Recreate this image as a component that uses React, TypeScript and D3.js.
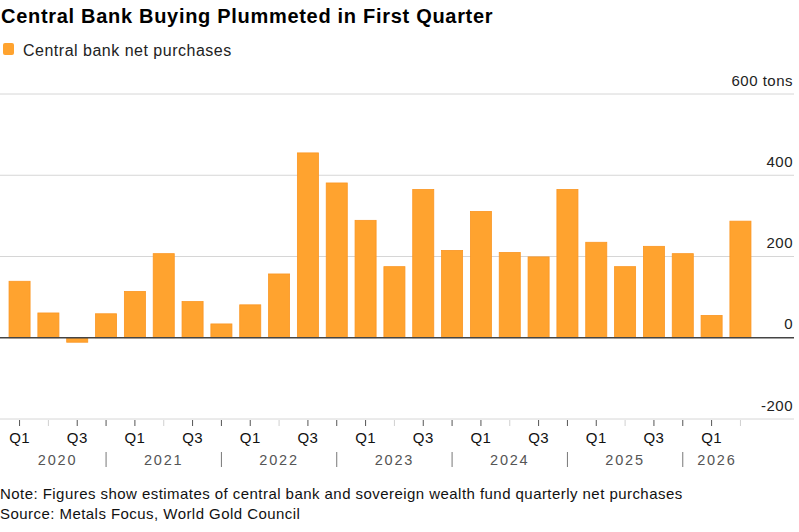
import * as React from "react";
import * as d3 from "d3";

// quarterly central bank net gold purchases, tons
const YEARS = [2020, 2021, 2022, 2023, 2024, 2025, 2026];
const QUARTERS = ["Q1", "Q2", "Q3", "Q4"];
const PURCHASES = [
  139, 61, -11, 59, 114, 207, 89, 34, 81, 157, 455, 381, 289, 175, 365, 215,
  311, 210, 199, 365, 235, 175, 225, 207, 55, 287,
];
const Y_TICKS = [-200, 0, 200, 400, 600];

interface IPeriod {
  key: string;
  year: number;
  q: number;
  value: number;
}

const PERIODS: IPeriod[] = PURCHASES.map((value, i) => ({
  key: `${YEARS[Math.floor(i / 4)]}-${QUARTERS[i % 4]}`,
  year: YEARS[Math.floor(i / 4)],
  q: i % 4,
  value,
}));

const FONT = "'Liberation Sans', Arial, Helvetica, sans-serif";
const BAR_FILL = "#ffa32f";
const BAR_STROKE = "#fb9622";

export default function App() {
  const [width, height] = [799, 532];
  const gridRight = 794;

  const x = d3
    .scaleBand<string>()
    .domain(PERIODS.map((d) => d.key))
    .range([5, 755])
    .paddingInner(0.27)
    .paddingOuter(0.14);
  const y = d3.scaleLinear().domain([-200, 600]).range([419, 94]);

  const center = (k: string) => (x(k) ?? 0) + x.bandwidth() / 2;
  const start = x(PERIODS[0].key) ?? 0;
  const end = (x(PERIODS[PERIODS.length - 1].key) ?? 0) + x.bandwidth();

  // year labels sit between the Q4 separators
  const yearLabels = YEARS.map((yr) => {
    const prevQ4 = PERIODS.find((p) => p.year === yr - 1 && p.q === 3);
    const thisQ4 = PERIODS.find((p) => p.year === yr && p.q === 3);
    const left = prevQ4 ? center(prevQ4.key) : start;
    const right = thisQ4 ? center(thisQ4.key) : end;
    return { yr, cx: (left + right) / 2, sep: thisQ4 ? center(thisQ4.key) : null };
  });

  return (
    <div style={{ position: "absolute", left: 0, top: 0 }}>
      <svg width={width} height={height} style={{ display: "block", fontFamily: FONT }}>
        <rect width={width} height={height} fill="#fff" />
        <text x={1} y={23} fontSize={20} fontWeight="bold" letterSpacing={0.7} fill="#000">
          Central Bank Buying Plummeted in First Quarter
        </text>
        <rect x={3} y={43} width={11} height={12} rx={2} fill={BAR_FILL} />
        <text x={23} y={56} fontSize={16} letterSpacing={0.5} fill="#222">
          Central bank net purchases
        </text>

        {/* gridlines and value labels */}
        {Y_TICKS.map((t) => (
          <g key={t}>
            {t !== 0 && (
              <line x1={0} x2={gridRight} y1={y(t)} y2={y(t)} stroke="#d6d6d6" strokeWidth={1} />
            )}
            <text
              x={gridRight - 1}
              y={y(t) - 8.5}
              textAnchor="end"
              fontSize={15}
              letterSpacing={0.5}
              fill="#222"
            >
              {t === 600 ? "600 tons" : t}
            </text>
          </g>
        ))}

        {/* bars */}
        {PERIODS.map((d) => (
          <rect
            key={d.key}
            x={x(d.key)}
            y={y(Math.max(0, d.value))}
            width={x.bandwidth()}
            height={Math.abs(y(d.value) - y(0))}
            fill={BAR_FILL}
            stroke={BAR_STROKE}
            strokeWidth={0.8}
          />
        ))}

        <line x1={0} x2={gridRight} y1={y(0)} y2={y(0)} stroke="#444" strokeWidth={1.4} />

        {/* quarter ticks */}
        {PERIODS.map((d) => (
          <line
            key={d.key}
            x1={center(d.key)}
            x2={center(d.key)}
            y1={420}
            y2={426}
            stroke={d.q === 1 ? "#d0d0d0" : "#555"}
            strokeWidth={1}
          />
        ))}
        {PERIODS.filter((d) => d.q === 0 || d.q === 2).map((d) => (
          <text
            key={d.key}
            x={center(d.key)}
            y={443}
            textAnchor="middle"
            fontSize={15}
            letterSpacing={0.4}
            fill="#111"
          >
            {QUARTERS[d.q]}
          </text>
        ))}

        {/* years */}
        {yearLabels.map((l) => (
          <g key={l.yr}>
            <text
              x={l.cx}
              y={465}
              textAnchor="middle"
              fontSize={14.5}
              letterSpacing={1.8}
              fill="#555"
            >
              {l.yr}
            </text>
            {l.sep !== null && l.yr !== YEARS[YEARS.length - 1] && (
              <line x1={l.sep} x2={l.sep} y1={452} y2={467} stroke="#777" strokeWidth={1} />
            )}
          </g>
        ))}

        <text x={0} y={499} fontSize={15} letterSpacing={0.45} fill="#111">
          Note: Figures show estimates of central bank and sovereign wealth fund quarterly net purchases
        </text>
        <text x={0} y={519} fontSize={15} letterSpacing={0.45} fill="#111">
          Source: Metals Focus, World Gold Council
        </text>
      </svg>
    </div>
  );
}
